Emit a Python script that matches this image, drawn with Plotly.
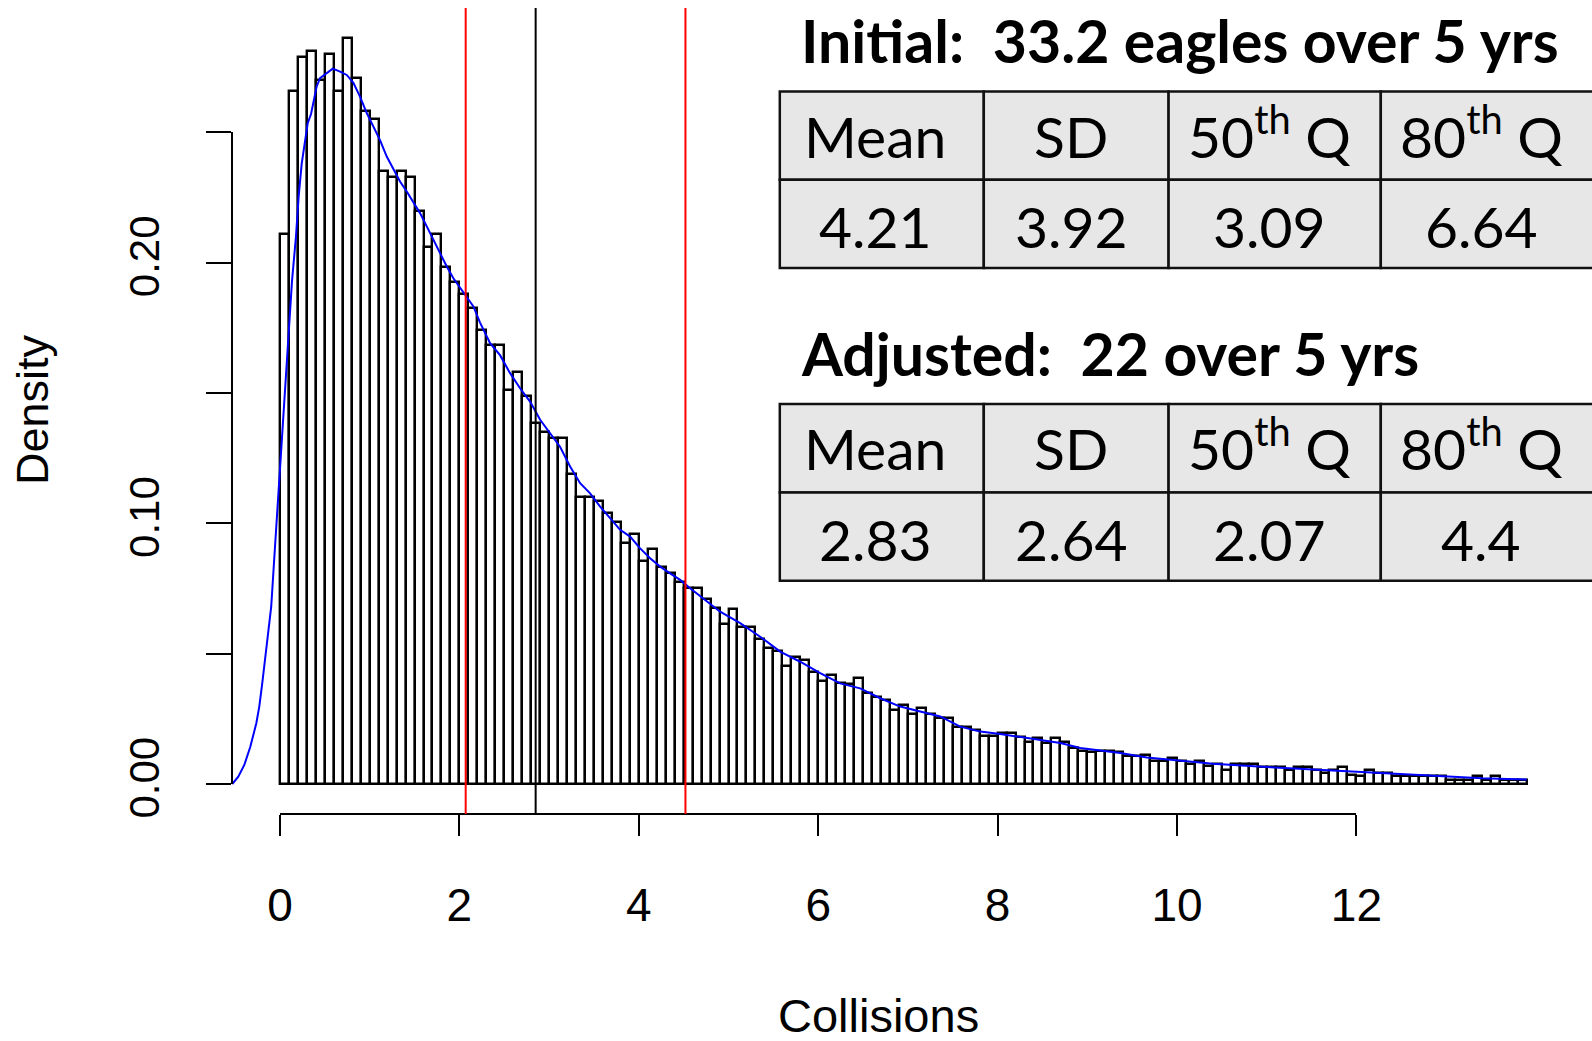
import numpy as np
import plotly.graph_objects as go

# ---------------- data ----------------
BIN_START = 0.0
BIN_WIDTH = 0.1
hist_density = [
    0.211, 0.266, 0.279, 0.281, 0.270, 0.280, 0.266, 0.286, 0.271, 0.258,
    0.255, 0.235, 0.233, 0.235, 0.233, 0.220, 0.206, 0.211, 0.1985, 0.1927,
    0.188, 0.1826, 0.174, 0.1685, 0.1685, 0.151, 0.158, 0.149, 0.1385, 0.135,
    0.1328, 0.1328, 0.119, 0.110, 0.110, 0.1086, 0.1039, 0.1005, 0.0926, 0.096,
    0.0857, 0.0902, 0.0832, 0.081, 0.0776, 0.0751, 0.0751, 0.0709, 0.0674, 0.0614,
    0.0673, 0.0604, 0.0604, 0.0556, 0.0521, 0.051, 0.0453, 0.0487, 0.0476, 0.0429,
    0.0394, 0.0418, 0.0389, 0.0384, 0.0407, 0.0348, 0.0335, 0.0322, 0.0284, 0.0302,
    0.0267, 0.029, 0.0267, 0.0254, 0.0254, 0.022, 0.022, 0.0207, 0.0185, 0.0185,
    0.0197, 0.0197, 0.0182, 0.0162, 0.0175, 0.0156, 0.0175, 0.0162, 0.0137, 0.0128,
    0.0124, 0.0128, 0.0125, 0.0122, 0.0109, 0.0107, 0.011, 0.0087, 0.0087, 0.0101,
    0.0087, 0.0077, 0.0087, 0.0068, 0.0076, 0.0055, 0.0077, 0.0077, 0.0077, 0.0064,
    0.0064, 0.0064, 0.0052, 0.0066, 0.0066, 0.0052, 0.0041, 0.0052, 0.0066, 0.0033,
    0.0030, 0.0055, 0.0041, 0.0041, 0.0030, 0.0030, 0.0030, 0.0030, 0.0030, 0.0030,
    0.0017, 0.0017, 0.0017, 0.0030, 0.0017, 0.0030, 0.0017, 0.0017, 0.0017,
]

dens_x = [
    -0.532, -0.465, -0.398, -0.331, -0.264, -0.231, -0.198, -0.165, -0.131, -0.098,
    -0.065, -0.031, 0.003, 0.037, 0.075, 0.10, 0.134, 0.178, 0.208, 0.242,
    0.279, 0.309, 0.346, 0.383, 0.409, 0.446, 0.539, 0.588, 0.67, 0.744,
    0.818, 0.892, 0.967, 1.041, 1.115, 1.19, 1.264, 1.338, 1.413, 1.487,
    1.561, 1.636, 1.71, 1.784, 1.859, 1.933, 2.007, 2.082, 2.156, 2.23,
    2.342, 2.453, 2.565, 2.676, 2.788, 2.9, 3.011, 3.122, 3.234, 3.346,
    3.457, 3.569, 3.68, 3.792, 3.903, 4.015, 4.126, 4.238, 4.349, 4.461,
    4.572, 4.70, 4.907, 5.13, 5.353, 5.576, 5.799, 6.022, 6.245, 6.468,
    6.691, 6.914, 7.137, 7.36, 7.583, 7.806, 8.029, 8.253, 8.476, 8.699,
    8.922, 9.145, 9.368, 9.665, 10.0, 10.4, 11.0, 11.6, 12.2, 12.8,
    13.4, 13.9,
]
dens_y = [
    0.0, 0.0028, 0.0073, 0.0143, 0.0233, 0.0297, 0.0386, 0.0476, 0.0572, 0.068,
    0.086, 0.1039, 0.1243, 0.1422, 0.158, 0.174, 0.193, 0.210, 0.2254, 0.238,
    0.247, 0.2535, 0.257, 0.263, 0.2676, 0.2708, 0.2733, 0.2744, 0.2733, 0.272,
    0.269, 0.2637, 0.2574, 0.2522, 0.247, 0.2407, 0.2356, 0.2311, 0.2273, 0.2234,
    0.219, 0.2139, 0.2087, 0.2036, 0.1985, 0.194, 0.1905, 0.187, 0.1832, 0.177,
    0.1691, 0.1645, 0.1576, 0.1518, 0.1467, 0.1397, 0.1346, 0.1294, 0.1218, 0.1154,
    0.1115, 0.1064, 0.102, 0.0975, 0.0949, 0.0904, 0.0866, 0.0834, 0.0808, 0.0783,
    0.0751, 0.0716, 0.0661, 0.0617, 0.0565, 0.0508, 0.0469, 0.0425, 0.0386, 0.0367,
    0.0329, 0.0297, 0.0278, 0.0259, 0.022, 0.0201, 0.0192, 0.018, 0.0169, 0.0157,
    0.0138, 0.0129, 0.0119, 0.0102, 0.0090, 0.0078, 0.0065, 0.0054, 0.0043, 0.0033,
    0.0022, 0.0017,
]

red_lines = [2.07, 4.52]
black_lines = [2.85]

x_tick_vals = [0, 2, 4, 6, 8, 10, 12]
x_tick_text = ["0", "2", "4", "6", "8", "10", "12"]
y_tick_vals = [0.0, 0.05, 0.10, 0.15, 0.20, 0.25]
y_tick_text = ["0.00", "", "0.10", "", "0.20", ""]

stat_headers = ["Mean", "SD", "50<sup>th</sup> Q", "80<sup>th</sup> Q"]
initial_stats = ["4.21", "3.92", "3.09", "6.64"]
adjusted_stats = ["2.83", "2.64", "2.07", "4.4"]
initial_title = "Initial:\u00a0 33.2 eagles over 5 yrs"
adjusted_title = "Adjusted:\u00a0 22 over 5 yrs"
x_title = "Collisions"
y_title = "Density"

# ---------------- geometry (pixels) ----------------
W, H = 1592, 1041
X0_PX, X12_PX = 280.0, 1356.4
Y0_PX, Y25_PX = 784.0, 132.3
ux = (X12_PX - X0_PX) / 12.0
uy = (Y0_PX - Y25_PX) / 0.25
xr = [-X0_PX / ux, (W - X0_PX) / ux]
yr = [-(H - Y0_PX) / uy, Y0_PX / uy]
REGION_BOTTOM = -(814 - Y0_PX) / uy
REGION_TOP = (Y0_PX - 8) / uy


def px(p):
    return p / W


def py(p):
    return 1 - p / H


bin_centers = [BIN_START + BIN_WIDTH * (i + 0.5) for i in range(len(hist_density))]

fig = go.Figure()
fig.add_trace(go.Bar(
    x=bin_centers, y=hist_density, width=BIN_WIDTH,
    marker=dict(color="white", line=dict(color="black", width=2.4)),
    showlegend=False, hoverinfo="skip",
))
fig.add_trace(go.Scatter(
    x=dens_x, y=dens_y, mode="lines",
    line=dict(color="#0000ff", width=2), showlegend=False, hoverinfo="skip",
))
# dummy trace carrying the visible axes
fig.add_trace(go.Scatter(x=[], y=[], xaxis="x2", yaxis="y2", showlegend=False))

shapes = []
for v in red_lines:
    shapes.append(dict(type="line", xref="x", yref="y", x0=v, x1=v,
                       y0=REGION_BOTTOM, y1=REGION_TOP,
                       line=dict(color="#ff0000", width=2)))
for v in black_lines:
    shapes.append(dict(type="line", xref="x", yref="y", x0=v, x1=v,
                       y0=REGION_BOTTOM, y1=REGION_TOP,
                       line=dict(color="black", width=2)))

annotations = []
TFONT = "Lato, 'Open Sans', sans-serif"
col_edges = [779.8, 983.8, 1168.6, 1380.8, 1620]
text_cx = [875, 1071, 1269, 1481]


def add_table(top, mid, bottom, title, title_cy, values):
    for r0, r1 in ((top, mid), (mid, bottom)):
        for c in range(4):
            shapes.append(dict(type="rect", xref="paper", yref="paper",
                               x0=px(col_edges[c]), x1=px(col_edges[c + 1]),
                               y0=py(r1), y1=py(r0), layer="above",
                               fillcolor="#e7e7e7",
                               line=dict(color="#111111", width=2.5)))
    annotations.append(dict(text="<b>" + title + "</b>", xref="paper", yref="paper",
                            x=px(799), y=py(title_cy), xanchor="left", yanchor="middle",
                            showarrow=False,
                            font=dict(family=TFONT, size=59, color="black")))
    for c in range(4):
        annotations.append(dict(text=stat_headers[c], xref="paper", yref="paper",
                                x=px(text_cx[c]), y=py(mid - 8), xanchor="center",
                                yanchor="bottom", showarrow=False,
                                font=dict(family=TFONT, size=57, color="black")))
        annotations.append(dict(text=values[c], xref="paper", yref="paper",
                                x=px(text_cx[c]), y=py((mid + bottom) / 2 + 2),
                                xanchor="center", yanchor="middle", showarrow=False,
                                font=dict(family=TFONT, size=57, color="black")))


add_table(91.4, 179.7, 268.0, initial_title, 41, initial_stats)
add_table(404.0, 492.4, 580.8, adjusted_title, 353, adjusted_stats)

AFONT = "'Liberation Sans', Arial, sans-serif"
annotations.append(dict(text=x_title, xref="paper", yref="paper", x=px(879), y=py(1015),
                        xanchor="center", yanchor="middle", showarrow=False,
                        font=dict(family=AFONT, size=47, color="black")))
annotations.append(dict(text=y_title, xref="paper", yref="paper", x=px(32), y=py(410),
                        xanchor="center", yanchor="middle", showarrow=False, textangle=-90,
                        font=dict(family=AFONT, size=45, color="black")))

fig.update_layout(
    template="none",
    width=W, height=H, autosize=False,
    margin=dict(l=0, r=0, t=0, b=0, pad=0, autoexpand=False),
    paper_bgcolor="white", plot_bgcolor="rgba(0,0,0,0)",
    bargap=0, showlegend=False,
    xaxis=dict(domain=[0, 1], range=xr, visible=False, fixedrange=True, automargin=False),
    yaxis=dict(domain=[0, 1], range=yr, visible=False, fixedrange=True, automargin=False),
    xaxis2=dict(domain=[px(X0_PX), px(X12_PX)], range=[0, 12], anchor="free",
                position=py(814), showline=True, linecolor="black", linewidth=2,
                ticks="outside", ticklen=21, tickwidth=2, tickcolor="black",
                tickvals=x_tick_vals, ticktext=x_tick_text, showgrid=False,
                zeroline=False, ticklabelstandoff=30, automargin=False, fixedrange=True,
                tickfont=dict(family=AFONT, size=46, color="black")),
    yaxis2=dict(domain=[py(Y0_PX), py(Y25_PX)], range=[0, 0.25], anchor="free",
                position=px(232), side="left", showline=True, linecolor="black",
                linewidth=2, ticks="outside", ticklen=25, tickwidth=2,
                tickcolor="black", tickvals=y_tick_vals, ticktext=y_tick_text,
                tickangle=-90, showgrid=False, zeroline=False, ticklabelstandoff=30,
                automargin=False, fixedrange=True,
                tickfont=dict(family=AFONT, size=42, color="black")),
    shapes=shapes, annotations=annotations,
)

fig.write_html("out.html", config={"displayModeBar": False},
               post_script="document.body.style.margin='0';")
